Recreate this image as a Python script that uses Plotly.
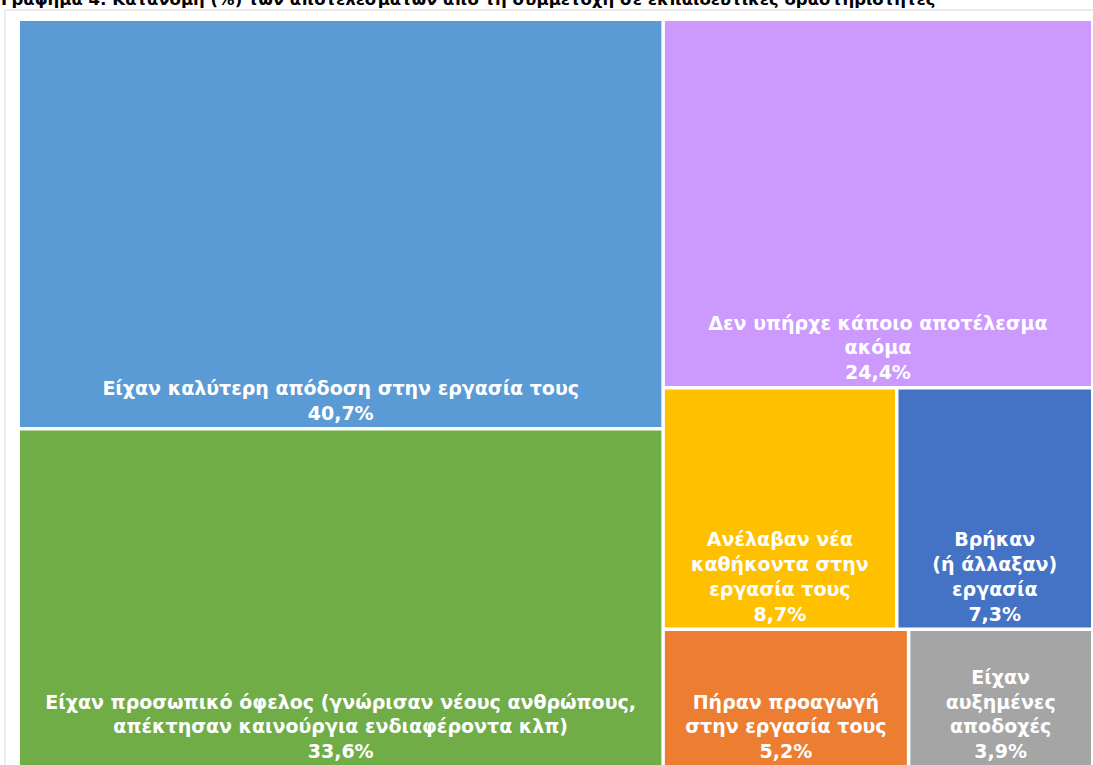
import plotly.graph_objects as go

title_text = "Γράφημα 4: Κατανομή (%) των αποτελεσμάτων από τη συμμετοχή σε εκπαιδευτικές δραστηριότητες"

categories = [
    "Είχαν καλύτερη απόδοση στην εργασία τους",
    "Είχαν προσωπικό όφελος (γνώρισαν νέους ανθρώπους,<br>απέκτησαν καινούργια ενδιαφέροντα κλπ)",
    "Δεν υπήρχε κάποιο αποτέλεσμα<br>ακόμα",
    "Ανέλαβαν νέα<br>καθήκοντα στην<br>εργασία τους",
    "Βρήκαν<br>(ή άλλαξαν)<br>εργασία",
    "Πήραν προαγωγή<br>στην εργασία τους",
    "Είχαν<br>αυξημένες<br>αποδοχές",
]
values = [40.7, 33.6, 24.4, 8.7, 7.3, 5.2, 3.9]
colors = ["#5B9BD5", "#70AD47", "#CC99FF", "#FFC000", "#4472C4", "#ED7D31", "#A5A5A5"]

# invisible grouping used to reproduce the Excel tile arrangement
leaf_groups = ["left", "left", "right", "row1", "row1", "row2", "row2"]
group_ids = ["root", "left", "right", "rb", "rb2", "row1", "row2"]
group_parents = ["", "root", "root", "right", "rb", "rb2", "rb2"]


def fmt(v):
    return f"{v:.1f}".replace(".", ",") + "%"


ids, labels, parents, vals, cols, texts = [], [], [], [], [], []
# leaves first so that sibling order follows the list order
for i, (c, v, col, g) in enumerate(zip(categories, values, colors, leaf_groups)):
    ids.append(f"c{i}"); labels.append(c.replace("<br>", " ")); parents.append(g)
    vals.append(v); cols.append(col); texts.append(f"{c}<br>{fmt(v)}")
for g, p in zip(group_ids, group_parents):
    ids.append(g); labels.append(" "); parents.append(p); vals.append(0)
    cols.append("rgba(0,0,0,0)"); texts.append("")

FS = 19
fig = go.Figure(go.Treemap(
    ids=ids, labels=labels, parents=parents, values=vals,
    branchvalues="remainder", sort=False,
    text=texts, texttemplate="%{text}", textposition="bottom center",
    marker=dict(colors=cols, line=dict(width=0), pad=dict(t=0, l=0, r=0, b=0)),
    tiling=dict(packing="slice-dice", pad=3.5),
    pathbar=dict(visible=False),
    textfont=dict(family="DejaVu Sans", size=FS, color="white", weight="bold"),
    hoverinfo="skip",
))

W, H = 1093, 765
ml, mr, mt, mb = 20, 2, 21, 0
pw, ph = W - ml - mr, H - mt - mb

fig.add_shape(type="rect", xref="paper", yref="paper",
              x0=(5 - ml) / pw, x1=1 + 20 / pw, y0=-0.05, y1=1 + (mt - 10) / ph,
              line=dict(color="#D9D9D9", width=1), fillcolor="rgba(0,0,0,0)", layer="below")

fig.add_annotation(text=title_text, xref="paper", yref="paper",
                   x=(-1 - ml) / pw, xanchor="left", y=1 + (mt + 1) / ph, yanchor="middle",
                   showarrow=False, font=dict(family="DejaVu Sans", size=16.5, color="black", weight="bold"))

fig.update_layout(
    width=W, height=H,
    margin=dict(l=ml, r=mr, t=mt, b=mb),
    paper_bgcolor="white",
    uniformtext=dict(minsize=FS, mode="show"),
)

fig.write_html("out.html", config={"displayModeBar": False},
               post_script="document.body.style.margin='0';document.body.style.overflow='hidden';")
